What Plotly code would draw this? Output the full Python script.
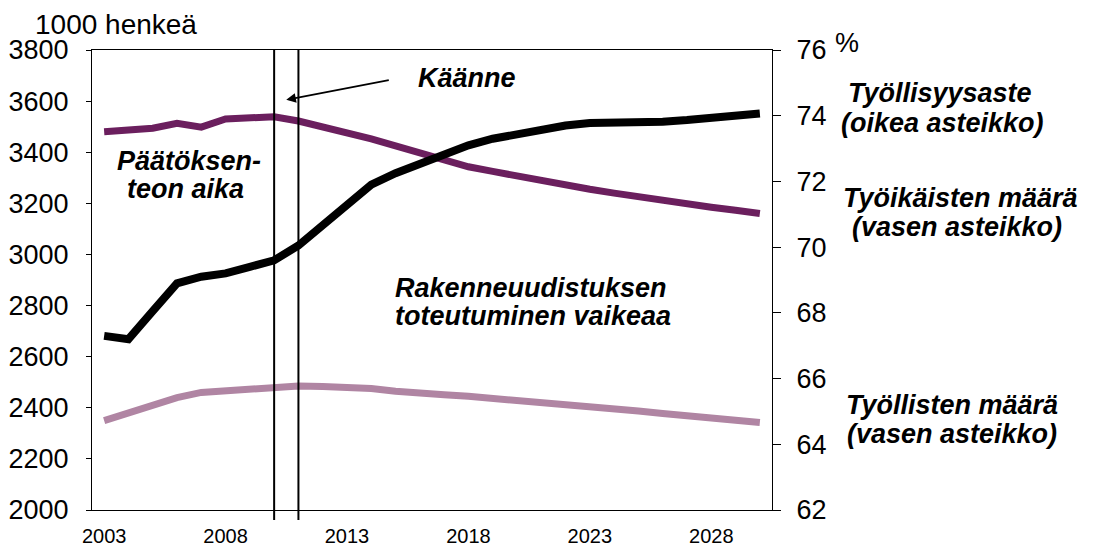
import plotly.graph_objects as go

# ---- data ----
years = list(range(2003, 2031))
employment_rate = [67.3, 67.2, 68.05, 68.9, 69.1, 69.2, 69.4, 69.6, 70.05, 70.65, 71.3, 71.9,
                   72.25, 72.55, 72.8, 73.1, 73.3, 73.45, 73.6, 73.7, 73.78, 73.78, 73.8,
                   73.82, 73.87, 73.92, 73.99, 74.07]
working_age = [3480, 3487, 3494, 3513, 3498, 3530, 3535, 3539, 3522, 3500, 3477, 3452, 3425,
               3397, 3368, 3343, 3325, 3306, 3288, 3270, 3255, 3240, 3225, 3210, 3198, 3185,
               3173, 3160]
employed = [2350, 2378, 2407, 2440, 2460, 2467, 2471, 2475, 2485, 2483, 2482, 2475, 2465, 2456,
            2451, 2445, 2437, 2430, 2425, 2415, 2406, 2397, 2387, 2378, 2369, 2360, 2351, 2342]
x_label_years = [2003, 2008, 2013, 2018, 2023, 2028]
turn_years = [2010, 2011]
left_ticks = list(range(2000, 3801, 200))
right_ticks = list(range(62, 77, 2))

FONT = "Arial, Liberation Sans, sans-serif"
OFF = 8  # default page (body) margin of the browser
W, H = 1096 - OFF, 551 - OFF
L, R, T, B = 92 - OFF, 772 - OFF, 50 - OFF, 510 - OFF

def px(xp):
    return (xp - OFF - L) / (R - L)

def py(yp):
    return (B - (yp - OFF)) / (B - T)

x_range = [years[0] - 0.5, years[-1] + 0.5]
boundaries = [y - 0.5 for y in years] + [years[-1] + 0.5]

fig = go.Figure()
fig.add_trace(go.Scatter(x=years, y=employed, mode="lines",
                         line=dict(color="#B085A3", width=7), xaxis="x", yaxis="y",
                         hoverinfo="skip"))
fig.add_trace(go.Scatter(x=years, y=working_age, mode="lines",
                         line=dict(color="#6B1F5E", width=7), xaxis="x", yaxis="y",
                         hoverinfo="skip"))
fig.add_trace(go.Scatter(x=years, y=employment_rate, mode="lines",
                         line=dict(color="#000000", width=8), xaxis="x", yaxis="y2",
                         hoverinfo="skip"))

for yr in turn_years:
    fig.add_shape(type="line", xref="x", yref="paper", x0=yr, x1=yr, y0=-0.022, y1=1,
                  line=dict(color="black", width=2), layer="above")

def bi(size=27):
    return dict(family=FONT, size=size, color="black", weight="bold", style="italic")

def ann(text, xp, yp, anchor="center", font=None):
    fig.add_annotation(text=text, xref="paper", yref="paper", x=px(xp), y=py(yp),
                       xanchor=anchor, yanchor="middle", showarrow=False,
                       font=font if font else bi())

normal = dict(family=FONT, size=28, color="black")
ann("1000 henkeä", 33, 25, "left", normal)
ann("%", 833, 43, "left", dict(family=FONT, size=27, color="black"))
ann("Käänne", 467, 78)
ann("Päätöksen-", 189, 161)
ann("teon aika", 185, 189)
ann("Rakenneuudistuksen", 393, 288, "left")
ann("toteutuminen vaikeaa", 393, 316, "left")
ann("Työllisyysaste", 940, 93)
ann("(oikea asteikko)", 942, 123)
ann("Työikäisten määrä", 961, 198)
ann("(vasen asteikko)", 957, 227)
ann("Työllisten määrä", 952, 405)
ann("(vasen asteikko)", 952, 434)

# arrow pointing at the turning point
fig.add_annotation(x=sum(turn_years) / 2, y=3605, xref="x", yref="y", text="",
                   showarrow=True, ax=104, ay=-20, arrowhead=2, arrowsize=1.2,
                   arrowwidth=1.6, arrowcolor="black")

fig.update_layout(
    width=W, height=H,
    margin=dict(l=L, r=W - R, t=T, b=H - B, pad=0, autoexpand=False),
    paper_bgcolor="white", plot_bgcolor="white",
    showlegend=False,
    font=dict(family=FONT, color="black"),
    xaxis=dict(range=x_range, tickmode="array", tickvals=x_label_years,
               ticktext=[str(v) for v in x_label_years], ticks="", showgrid=False,
               zeroline=False, showline=True, linecolor="black", linewidth=1,
               mirror=True, tickfont=dict(size=20, family=FONT), ticklabelstandoff=8,
               automargin=False),
    xaxis2=dict(range=x_range, overlaying="x", anchor="y", side="bottom",
                tickmode="array", tickvals=boundaries, ticks="outside", ticklen=5,
                tickcolor="black", showticklabels=False, showgrid=False, zeroline=False,
                showline=False, automargin=False),
    xaxis3=dict(range=x_range, overlaying="x", anchor="y", side="bottom",
                tickmode="array", tickvals=boundaries, ticks="inside", ticklen=5,
                tickcolor="black", showticklabels=False, showgrid=False, zeroline=False,
                showline=False, automargin=False),
    yaxis=dict(range=[2000, 3800], tickmode="array", tickvals=left_ticks, ticks="outside",
               ticklen=5, tickcolor="black", showgrid=False, zeroline=False, showline=True,
               linecolor="black", linewidth=1, tickfont=dict(size=27, family=FONT),
               ticklabelstandoff=12, automargin=False),
    yaxis2=dict(range=[62, 76], overlaying="y", side="right", anchor="x", tickmode="array",
                tickvals=right_ticks, ticks="outside", ticklen=8, tickcolor="black",
                showgrid=False, zeroline=False, showline=True, linecolor="black",
                linewidth=1, tickfont=dict(size=27, family=FONT), ticklabelstandoff=10,
                automargin=False),
    yaxis3=dict(range=[62, 76], overlaying="y", side="right", anchor="x", tickmode="array",
                tickvals=right_ticks, ticks="inside", ticklen=9, tickcolor="black",
                showgrid=False, zeroline=False, showline=False, showticklabels=False,
                automargin=False),
)

fig.write_html("out.html")
